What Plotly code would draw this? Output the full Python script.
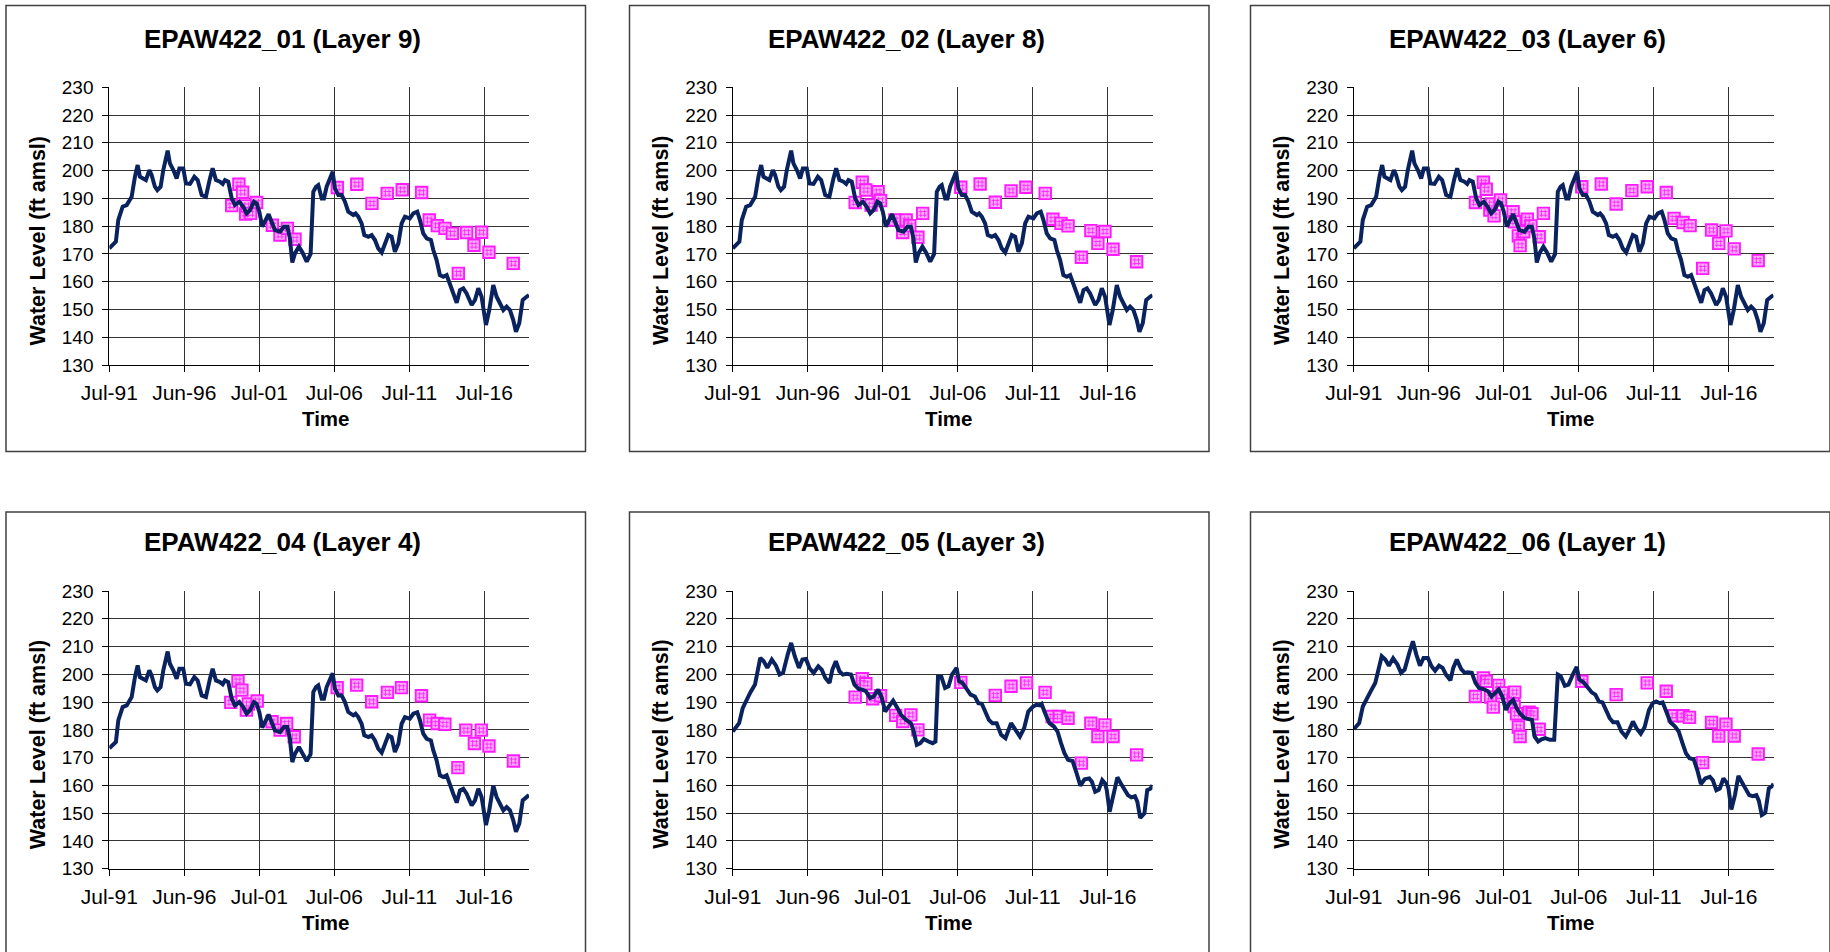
import plotly.graph_objects as go

W, H = 1830, 952

# ---------------- simulated water levels (ft amsl) ----------------
# layers 9, 8 and 6 share the same simulated hydrograph
sim_yr_deep = [1991.50, 1991.94, 1992.10, 1992.39, 1992.66, 1992.99, 1993.21, 1993.39, 1993.54, 1993.77,
               1993.94, 1994.17, 1994.32, 1994.54, 1994.70, 1994.92, 1995.10, 1995.39, 1995.54, 1995.77,
               1995.99, 1996.17, 1996.43, 1996.61, 1996.88, 1997.17, 1997.39, 1997.66, 1997.94, 1998.21,
               1998.39, 1998.61, 1998.88, 1999.06, 1999.21, 1999.43, 1999.66, 1999.88, 2000.17, 2000.43,
               2000.66, 2000.88, 2001.14, 2001.32, 2001.50, 2001.70, 2001.92, 2002.12, 2002.32, 2002.54,
               2002.88, 2003.14, 2003.37, 2003.54, 2003.70, 2003.88, 2004.14, 2004.39, 2004.66, 2004.92,
               2005.10, 2005.28, 2005.43, 2005.66, 2005.81, 2005.99, 2006.21, 2006.39, 2006.54, 2006.77,
               2006.99, 2007.21, 2007.43, 2007.77, 2007.92, 2008.10, 2008.32, 2008.50, 2008.77, 2008.99,
               2009.21, 2009.43, 2009.66, 2009.88, 2010.10, 2010.32, 2010.54, 2010.77, 2010.99, 2011.21,
               2011.54, 2011.77, 2012.03, 2012.21, 2012.43, 2012.66, 2012.94, 2013.10, 2013.32, 2013.54,
               2013.77, 2013.99, 2014.21, 2014.43, 2014.66, 2014.88, 2015.10, 2015.32, 2015.66, 2015.88,
               2016.10, 2016.32, 2016.43, 2016.61, 2016.83, 2017.10, 2017.32, 2017.54, 2017.77, 2017.99,
               2018.21, 2018.43, 2018.61, 2018.83, 2019.06, 2019.28, 2019.48]
sim_deep = [172.0, 174.4, 182.2, 187.0, 187.6, 190.6, 197.8, 202.0, 197.8, 197.2,
            196.6, 200.2, 198.4, 194.2, 193.0, 194.2, 200.2, 207.2, 202.6, 200.2,
            197.2, 200.8, 200.8, 195.4, 195.2, 197.8, 196.6, 191.2, 190.6, 197.2,
            200.8, 196.6, 196.0, 195.2, 196.6, 196.0, 190.0, 187.6, 188.8, 187.0,
            184.6, 185.8, 188.8, 188.2, 185.2, 179.8, 182.2, 184.3, 181.6, 178.6,
            178.0, 179.8, 179.8, 175.6, 166.9, 170.2, 172.6, 170.4, 167.2, 170.0,
            192.4, 194.2, 194.8, 190.0, 190.0, 194.2, 197.2, 199.6, 193.6, 191.2,
            191.2, 188.8, 185.2, 184.0, 184.6, 183.4, 181.0, 176.8, 176.2, 176.8,
            175.0, 172.0, 170.5, 173.8, 176.8, 176.2, 170.8, 173.8, 181.0, 183.4,
            182.8, 184.6, 185.2, 182.2, 177.4, 175.6, 175.0, 171.4, 167.8, 162.4,
            161.8, 162.4, 158.8, 155.8, 152.4, 157.0, 157.6, 155.8, 151.6, 153.4,
            157.6, 154.6, 151.0, 144.4, 149.8, 158.8, 154.6, 152.2, 149.8, 151.0,
            149.8, 146.2, 142.0, 145.0, 153.4, 154.4, 155.2]

# layer 4 (same output dates as the deep layers)
sim_l4 = [173.4, 175.6, 183.4, 188.2, 188.8, 191.8, 199.0, 203.2, 199.0, 198.4,
          197.8, 201.4, 199.6, 195.4, 194.2, 195.4, 201.4, 208.2, 203.8, 201.4,
          198.4, 202.0, 202.0, 196.6, 196.4, 199.0, 197.8, 192.4, 191.8, 198.4,
          202.0, 197.8, 197.2, 196.4, 197.8, 197.2, 191.2, 188.8, 190.0, 188.2,
          185.8, 187.0, 190.0, 189.4, 186.4, 180.8, 183.4, 185.5, 182.8, 179.8,
          179.2, 181.0, 181.0, 176.8, 168.4, 171.4, 173.8, 171.6, 168.8, 171.2,
          193.6, 195.4, 196.0, 191.2, 191.2, 195.4, 198.4, 200.4, 194.8, 192.4,
          192.4, 190.0, 186.4, 185.2, 185.8, 184.6, 182.2, 178.0, 177.4, 178.0,
          176.2, 173.2, 171.8, 175.0, 178.0, 177.4, 172.0, 175.0, 182.2, 184.6,
          184.0, 185.8, 186.3, 183.4, 178.6, 176.8, 176.2, 172.6, 169.0, 163.6,
          163.0, 163.6, 160.0, 157.0, 153.8, 158.2, 158.8, 157.0, 152.8, 154.6,
          158.8, 155.8, 152.2, 145.7, 151.0, 159.9, 155.8, 153.4, 151.0, 152.2,
          151.0, 147.4, 143.3, 146.2, 154.6, 155.6, 156.5]

# layer 3
sim_yr_l3 = [1991.50, 1991.92, 1992.16, 1992.44, 1992.67, 1992.98, 1993.33, 1993.56, 1993.80, 1994.10,
             1994.38, 1994.62, 1994.85, 1995.16, 1995.39, 1995.63, 1995.91, 1996.14, 1996.38, 1996.61,
             1996.89, 1997.20, 1997.43, 1997.67, 1997.95, 1998.14, 1998.37, 1998.61, 1998.84, 1999.08,
             1999.38, 1999.61, 1999.90, 2000.13, 2000.37, 2000.65, 2000.88, 2001.19, 2001.42, 2001.66,
             2001.96, 2002.19, 2002.48, 2002.71, 2003.06, 2003.37, 2003.53, 2003.77, 2004.00, 2004.24,
             2004.54, 2004.82, 2005.01, 2005.18, 2005.41, 2005.65, 2005.88, 2006.11, 2006.42, 2006.58,
             2006.81, 2007.12, 2007.35, 2007.64, 2007.87, 2008.10, 2008.34, 2008.57, 2008.81, 2009.09,
             2009.39, 2009.68, 2010.05, 2010.33, 2010.64, 2010.92, 2011.20, 2011.51, 2011.74, 2011.97,
             2012.09, 2012.32, 2012.61, 2012.91, 2013.15, 2013.38, 2013.61, 2013.85, 2014.15, 2014.39,
             2014.67, 2014.95, 2015.26, 2015.44, 2015.66, 2015.89, 2016.13, 2016.32, 2016.43, 2016.62,
             2016.83, 2017.14, 2017.37, 2017.61, 2017.84, 2018.07, 2018.31, 2018.47, 2018.66, 2018.94,
             2019.13, 2019.36, 2019.48]
sim_l3 = [179.4, 182.4, 187.8, 191.4, 193.5, 196.3, 205.9, 204.7, 202.3, 205.3,
          203.1, 199.9, 200.5, 207.1, 211.3, 206.5, 202.3, 205.3, 205.5, 202.3,
          200.5, 202.9, 201.7, 198.7, 196.9, 201.7, 204.7, 201.1, 199.9, 200.2,
          199.9, 196.3, 194.7, 194.5, 193.9, 191.5, 192.0, 194.5, 191.8, 186.6,
          189.0, 190.5, 187.8, 185.4, 183.6, 182.4, 180.0, 174.6, 175.2, 176.7,
          175.8, 175.2, 175.8, 199.0, 199.0, 195.1, 195.7, 199.9, 202.3, 197.5,
          196.9, 194.5, 192.7, 192.0, 189.6, 189.4, 186.6, 183.6, 182.4, 182.4,
          178.2, 177.0, 182.4, 180.0, 177.6, 180.6, 186.6, 188.4, 189.0, 188.8,
          189.3, 186.0, 182.4, 181.2, 179.4, 175.2, 171.6, 169.2, 168.8, 164.9,
          159.9, 162.2, 162.5, 161.3, 157.7, 158.3, 161.9, 160.7, 158.3, 150.5,
          155.9, 162.9, 160.7, 158.3, 156.5, 155.7, 156.1, 154.1, 148.3, 149.9,
          158.3, 158.9, 160.1]

# layer 1
sim_yr_l1 = [1991.50, 1991.86, 1992.10, 1992.41, 1992.65, 1992.93, 1993.36, 1993.60, 1993.84, 1994.12,
             1994.41, 1994.65, 1994.89, 1995.20, 1995.44, 1995.67, 1995.91, 1996.15, 1996.44, 1996.68,
             1996.92, 1997.18, 1997.42, 1997.65, 1997.94, 1998.13, 1998.37, 1998.66, 1998.90, 1999.09,
             1999.37, 1999.61, 1999.85, 2000.14, 2000.45, 2000.68, 2000.92, 2001.16, 2001.40, 2001.64,
             2001.88, 2002.12, 2002.35, 2002.59, 2002.90, 2003.19, 2003.38, 2003.55, 2003.79, 2004.02,
             2004.26, 2004.57, 2004.86, 2005.10, 2005.29, 2005.57, 2005.81, 2006.10, 2006.36, 2006.53,
             2006.82, 2007.13, 2007.36, 2007.60, 2007.84, 2008.08, 2008.32, 2008.56, 2008.79, 2009.08,
             2009.34, 2009.63, 2009.87, 2010.11, 2010.34, 2010.63, 2010.89, 2011.18, 2011.42, 2011.66,
             2011.90, 2012.09, 2012.33, 2012.61, 2012.92, 2013.16, 2013.40, 2013.64, 2013.88, 2014.16,
             2014.40, 2014.64, 2014.93, 2015.24, 2015.43, 2015.67, 2015.90, 2016.14, 2016.36, 2016.48,
             2016.67, 2016.91, 2017.14, 2017.38, 2017.62, 2017.86, 2018.10, 2018.34, 2018.50, 2018.70,
             2018.93, 2019.17, 2019.41, 2019.48]
sim_l1 = [180.2, 182.4, 188.4, 192.0, 194.1, 196.9, 206.5, 205.3, 203.1, 205.8,
          203.5, 200.5, 201.7, 207.7, 211.9, 207.1, 203.1, 205.9, 205.9, 202.9,
          201.3, 203.1, 202.3, 199.9, 197.8, 202.3, 205.3, 201.9, 200.5, 200.7,
          200.5, 196.9, 195.1, 194.7, 193.9, 192.0, 193.3, 194.5, 192.0, 187.2,
          189.6, 190.8, 187.8, 185.8, 184.2, 183.9, 183.6, 177.6, 175.8, 176.6,
          177.0, 176.4, 176.4, 199.9, 199.3, 195.9, 196.3, 199.9, 202.7, 198.1,
          197.1, 195.1, 193.5, 192.7, 190.2, 189.9, 187.2, 184.2, 182.7, 182.7,
          179.4, 177.6, 180.0, 183.0, 180.6, 178.6, 181.0, 187.2, 189.6, 190.2,
          189.6, 189.9, 186.6, 182.7, 181.2, 179.4, 175.4, 171.6, 169.8, 169.4,
          165.5, 160.5, 162.5, 163.1, 161.9, 158.3, 158.9, 162.5, 161.0, 158.9,
          151.3, 156.5, 163.4, 161.0, 158.6, 156.5, 156.1, 156.5, 154.5, 149.3,
          150.1, 158.9, 159.8, 160.7]

# ---------------- observed water levels (ft amsl) ----------------
obs_yr_01 = [1999.66, 2000.14, 2000.39, 2000.59, 2000.66, 2000.92, 2001.32, 2002.37, 2002.88, 2003.37,
             2003.88, 2006.70, 2008.00, 2009.01, 2010.03, 2011.03, 2012.32, 2012.83, 2013.37, 2013.88,
             2014.37, 2014.77, 2015.32, 2015.81, 2016.32, 2016.81, 2018.43]
obs_01 = [187.4, 195.1, 192.2, 184.4, 187.3, 184.6, 188.5, 180.3, 176.8, 179.2,
          175.3, 193.9, 195.1, 188.2, 191.8, 193.1, 192.1, 182.2, 180.2, 179.2,
          177.4, 163.0, 177.7, 173.1, 177.8, 170.6, 166.6]

obs_yr_02 = [1999.66, 2000.13, 2000.37, 2000.72, 2001.19, 2001.35, 2002.31, 2002.83, 2003.06, 2003.30,
             2003.84, 2004.16, 2006.70, 2007.99, 2009.00, 2010.05, 2011.04, 2012.33, 2012.84, 2013.38,
             2013.85, 2014.74, 2015.37, 2015.84, 2016.31, 2016.85, 2018.42]
obs_02 = [188.5, 195.8, 193.0, 187.6, 192.4, 189.2, 182.2, 177.7, 182.2, 180.2,
          176.0, 184.6, 194.0, 195.2, 188.6, 192.7, 194.0, 191.8, 182.5, 181.0,
          180.1, 168.8, 178.4, 173.8, 178.1, 171.7, 167.2]

obs_yr_03 = [1999.61, 2000.14, 2000.33, 2000.57, 2000.68, 2000.85, 2001.28, 2002.12, 2002.23, 2002.47,
             2002.59, 2002.83, 2003.07, 2003.31, 2003.86, 2004.14, 2006.70, 2008.00, 2008.99, 2010.04,
             2011.06, 2012.33, 2012.85, 2013.45, 2013.92, 2014.76, 2015.35, 2015.83, 2016.31, 2016.86,
             2018.46]
obs_03 = [188.5, 195.8, 193.3, 185.8, 188.0, 183.7, 189.4, 185.2, 181.6, 176.5,
          173.0, 178.0, 182.5, 180.1, 176.2, 184.6, 194.2, 195.2, 188.0, 192.8,
          194.2, 192.1, 182.8, 181.3, 180.2, 164.8, 178.6, 173.8, 178.3, 171.8,
          167.6]

obs_yr_04 = [1999.60, 2000.08, 2000.34, 2000.64, 2000.77, 2001.36, 2002.35, 2002.89, 2003.32, 2003.83,
             2006.69, 2007.99, 2008.99, 2010.04, 2010.98, 2012.31, 2012.85, 2013.36, 2013.87, 2014.74,
             2015.27, 2015.84, 2016.30, 2016.81, 2018.44]
obs_04 = [189.9, 197.6, 194.3, 187.1, 189.3, 190.4, 182.9, 179.9, 182.3, 177.5,
          195.2, 196.1, 190.1, 193.5, 195.2, 192.3, 183.5, 182.3, 182.0, 166.4,
          179.9, 175.1, 179.9, 174.2, 168.8]

obs_yr_05 = [1999.66, 2000.13, 2000.37, 2000.83, 2001.35, 2002.36, 2002.83, 2003.37, 2003.84, 2006.70,
             2009.00, 2010.05, 2011.08, 2012.32, 2012.79, 2013.26, 2013.85, 2014.74, 2015.37, 2015.84,
             2016.31, 2016.85, 2018.42]
obs_05 = [191.8, 198.4, 196.6, 191.2, 192.3, 185.2, 183.0, 185.4, 180.0, 197.1,
          192.4, 195.7, 196.9, 193.5, 184.8, 184.8, 184.2, 168.0, 182.4, 177.6,
          181.8, 177.6, 171.0]

obs_yr_06 = [1999.61, 2000.14, 2000.33, 2000.61, 2000.80, 2001.16, 2001.40, 2002.12, 2002.19, 2002.23,
             2002.35, 2002.47, 2002.59, 2003.19, 2003.38, 2003.86, 2006.70, 2008.99, 2011.06, 2012.33,
             2012.85, 2013.45, 2013.88, 2014.76, 2015.35, 2015.83, 2016.31, 2016.86, 2018.46]
obs_06 = [192.0, 198.7, 197.5, 191.8, 188.2, 196.0, 193.3, 190.8, 188.4, 193.6,
          185.8, 181.0, 177.6, 186.4, 185.8, 180.2, 197.5, 192.7, 196.9, 193.9,
          185.1, 185.1, 184.5, 168.2, 182.7, 177.8, 182.0, 177.8, 171.3]

titles = ["EPAW422_01 (Layer 9)", "EPAW422_02 (Layer 8)", "EPAW422_03 (Layer 6)",
          "EPAW422_04 (Layer 4)", "EPAW422_05 (Layer 3)", "EPAW422_06 (Layer 1)"]

x_tick_vals = [1991.5, 1996.5, 2001.5, 2006.5, 2011.5, 2016.5]
x_tick_text = ["Jul-91", "Jun-96", "Jul-01", "Jul-06", "Jul-11", "Jul-16"]
x_range = [1991.5, 2019.48]
y_range = [130, 230]

panels = [
    (sim_yr_deep, sim_deep, obs_yr_01, obs_01),
    (sim_yr_deep, sim_deep, obs_yr_02, obs_02),
    (sim_yr_deep, sim_deep, obs_yr_03, obs_03),
    (sim_yr_deep, sim_l4, obs_yr_04, obs_04),
    (sim_yr_l3, sim_l3, obs_yr_05, obs_05),
    (sim_yr_l1, sim_l1, obs_yr_06, obs_06),
]

# ---------------- page geometry (pixels) ----------------
COL_SHIFT = [0.0, 623.5, 1244.5]
ROW_SHIFT = [0.0, 503.7]
PLOT_X0, PLOT_W = 109.3, 419.7
PLOT_Y0, PLOT_H = 87.3, 277.7
BOX_X0, BOX_X1 = 6.0, 585.5
BOX_Y0, BOX_Y1 = 5.5, 451.5

FONT = "Liberation Sans, Arial, sans-serif"
LINE_COLOR = "#0a235f"
GRID_COLOR = "#333333"
OBS_FILL = "#fbaefb"
OBS_EDGE = "#ff1aff"


def px_x(v):
    return v / W


def px_y(v):
    return 1 - v / H


fig = go.Figure()
annotations = []
shapes = []

for i, (sx, sy, ox, oy) in enumerate(panels):
    r, c = divmod(i, 3)
    dx, dy = COL_SHIFT[c], ROW_SHIFT[r]
    n = "" if i == 0 else str(i + 1)
    xa, ya = "x" + n, "y" + n

    # observed points: hatched magenta squares
    fig.add_trace(go.Scatter(
        x=ox, y=oy, mode="markers", xaxis=xa, yaxis=ya, hoverinfo="skip",
        marker=dict(symbol="square", size=11.5, color=OBS_FILL,
                    line=dict(color=OBS_EDGE, width=1.9)),
        showlegend=False))
    fig.add_trace(go.Scatter(
        x=ox, y=oy, mode="markers", xaxis=xa, yaxis=ya, hoverinfo="skip",
        marker=dict(symbol="hash-open", size=7.5, color=OBS_EDGE,
                    line=dict(color=OBS_EDGE, width=0.8)),
        showlegend=False))
    # simulated hydrograph
    fig.add_trace(go.Scatter(
        x=sx, y=sy, mode="lines", xaxis=xa, yaxis=ya, hoverinfo="skip",
        line=dict(color=LINE_COLOR, width=4), showlegend=False))

    x0 = PLOT_X0 + dx
    y0 = PLOT_Y0 + dy
    fig.layout["xaxis" + n] = dict(
        domain=[px_x(x0), px_x(x0 + PLOT_W)], anchor=ya, range=x_range,
        tickmode="array", tickvals=x_tick_vals, ticktext=x_tick_text,
        showgrid=True, gridcolor=GRID_COLOR, gridwidth=1,
        showline=True, linecolor="#000000", linewidth=1,
        ticks="outside", ticklen=6, tickcolor="#000000", tickwidth=1,
        ticklabelstandoff=3, automargin=False,
        zeroline=False, fixedrange=True,
        tickfont=dict(family=FONT, size=21, color="#000000"))
    fig.layout["yaxis" + n] = dict(
        domain=[px_y(y0 + PLOT_H), px_y(y0)], anchor=xa, range=y_range,
        tickmode="linear", tick0=130, dtick=10,
        showgrid=True, gridcolor=GRID_COLOR, gridwidth=1,
        showline=True, linecolor="#000000", linewidth=1,
        ticks="outside", ticklen=6, tickcolor="#000000", tickwidth=1,
        ticklabelstandoff=5, automargin=False,
        zeroline=False, fixedrange=True,
        tickfont=dict(family=FONT, size=19, color="#000000"))

    # chart frame
    shapes.append(dict(type="rect", xref="paper", yref="paper",
                       x0=px_x(BOX_X0 + dx), x1=px_x(BOX_X1 + dx),
                       y0=px_y(BOX_Y1 + dy + (20 if r == 1 else 0)),
                       y1=px_y(BOX_Y0 + dy + (2.8 if r == 1 else 0)),
                       line=dict(color="#404040", width=1.5), fillcolor="rgba(0,0,0,0)",
                       layer="below"))

    annotations.append(dict(text="<b>%s</b>" % titles[i], xref="paper", yref="paper",
                            x=px_x(282.5 + dx), y=px_y(38.7 + dy), xanchor="center", yanchor="middle",
                            showarrow=False, font=dict(family=FONT, size=26, color="#000000")))
    annotations.append(dict(text="<b>Time</b>", xref="paper", yref="paper",
                            x=px_x(325.5 + dx), y=px_y(418.5 + dy), xanchor="center", yanchor="middle",
                            showarrow=False, font=dict(family=FONT, size=20.5, color="#000000")))
    annotations.append(dict(text="<b>Water Level (ft amsl)</b>", xref="paper", yref="paper",
                            x=px_x(37.5 + dx), y=px_y(241.0 + dy), xanchor="center", yanchor="middle",
                            textangle=-90, showarrow=False,
                            font=dict(family=FONT, size=21.5, color="#000000")))

fig.update_layout(
    width=W, height=H, margin=dict(l=0, r=0, t=0, b=0, autoexpand=False),
    paper_bgcolor="#ffffff", plot_bgcolor="#ffffff",
    annotations=annotations, shapes=shapes, showlegend=False,
)

fig.write_html("out.html", config={"displayModeBar": False})
